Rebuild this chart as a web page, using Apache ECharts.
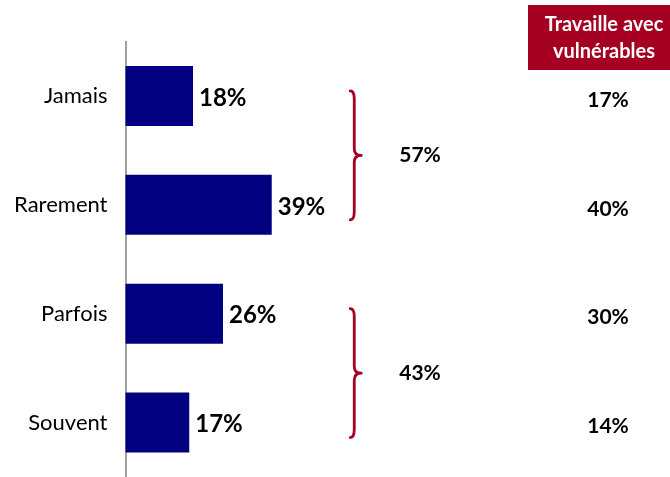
<!DOCTYPE html>
<html>
<head>
<meta charset="utf-8">
<script src="https://cdn.jsdelivr.net/npm/echarts@6/dist/echarts.min.js"></script>
<style>
  html, body { margin: 0; padding: 0; background: #fff; }
  #chart { width: 670px; height: 477px; }
</style>
</head>
<body>
<div id="chart"></div>
<script>
// Frequency answers, top to bottom
const categories = ['Jamais', 'Rarement', 'Parfois', 'Souvent'];
// Share of all respondents (%)
const allValues = [18, 39, 26, 17];
// Share among those working with vulnerable people (%)
const vulnerableValues = [17, 40, 30, 14];
// Grouped totals: [first category index, last category index, total %]
const groups = [[0, 1, 57], [2, 3, 43]];
const headerLines = ['Travaille avec', 'vulnérables'];

const NAVY = '#000080';
const RED = '#A50021';
const FONT = 'Lato';
const BRACE_X = 61; // brace column, in units of the value axis

const chart = echarts.init(document.getElementById('chart'), null, { renderer: 'canvas' });

function renderBrace(params, api) {
  const yTop = api.coord([BRACE_X, api.value(0)])[1] - 5;
  const yBot = api.coord([BRACE_X, api.value(1)])[1] + 15;
  const s = api.coord([BRACE_X, api.value(0)])[0];
  const c = s - 4, p = s + 7;
  const m = (yTop + yBot) / 2;
  const d = [
    'M', c, yTop,
    'Q', s, yTop, s, yTop + 8,
    'L', s, m - 7,
    'Q', s, m, p, m,
    'Q', s, m, s, m + 7,
    'L', s, yBot - 8,
    'Q', s, yBot, c, yBot
  ].join(' ');
  return {
    type: 'group',
    children: [
      {
        type: 'path',
        shape: { pathData: d },
        style: { fill: 'none', stroke: RED, lineWidth: 2.8, lineCap: 'round', lineJoin: 'round' }
      },
      {
        type: 'text',
        x: p + 38,
        y: m,
        style: {
          text: api.value(2) + '%',
          fill: '#000',
          font: 'bold 21px ' + FONT,
          textAlign: 'left',
          textVerticalAlign: 'middle'
        }
      }
    ]
  };
}

function renderSideValue(params, api) {
  const y = api.coord([0, api.value(0)])[1] + 4;
  return {
    type: 'text',
    x: api.getWidth() - 62,
    y: y,
    style: {
      text: api.value(1) + '%',
      fill: '#000',
      font: 'bold 21px ' + FONT,
      textAlign: 'center',
      textVerticalAlign: 'middle'
    }
  };
}

chart.setOption({
  animation: false,
  backgroundColor: '#fff',
  textStyle: { fontFamily: FONT },
  grid: { left: 125.5, top: 41.5, width: 375, height: 440, containLabel: false },
  xAxis: {
    type: 'value',
    min: 0,
    max: 100,
    show: false
  },
  yAxis: {
    type: 'category',
    data: categories,
    inverse: true,
    axisLine: { show: true, lineStyle: { color: '#808080', width: 1.5 } },
    axisTick: { show: false },
    axisLabel: { color: '#000', fontSize: 22, fontFamily: FONT, margin: 18, padding: [0, 0, 4, 0] },
    splitLine: { show: false }
  },
  series: [
    {
      type: 'bar',
      data: allValues,
      barCategoryGap: '45%',
      itemStyle: { color: NAVY },
      label: {
        show: true,
        position: 'right',
        distance: 6,
        formatter: '{c}%',
        color: '#000',
        fontFamily: FONT,
        fontWeight: 'bold',
        fontSize: 24,
        offset: [0, 2]
      },
      z: 2
    },
    {
      type: 'custom',
      data: groups,
      encode: { y: [0, 1] },
      renderItem: renderBrace,
      silent: true,
      z: 3
    },
    {
      type: 'custom',
      data: vulnerableValues.map((v, i) => [i, v]),
      encode: { y: 0 },
      renderItem: renderSideValue,
      silent: true,
      z: 3
    }
  ],
  graphic: [
    {
      type: 'group',
      children: [
        { type: 'rect', shape: { x: 528, y: 5, width: 160, height: 65 }, style: { fill: RED } },
        {
          type: 'text',
          x: 604,
          y: 38.5,
          style: {
            text: headerLines.join('\n'),
            fill: '#fff',
            font: 'bold 20px ' + FONT,
            lineHeight: 27,
            textAlign: 'center',
            textVerticalAlign: 'middle'
          }
        }
      ]
    }
  ]
});
</script>
</body>
</html>
